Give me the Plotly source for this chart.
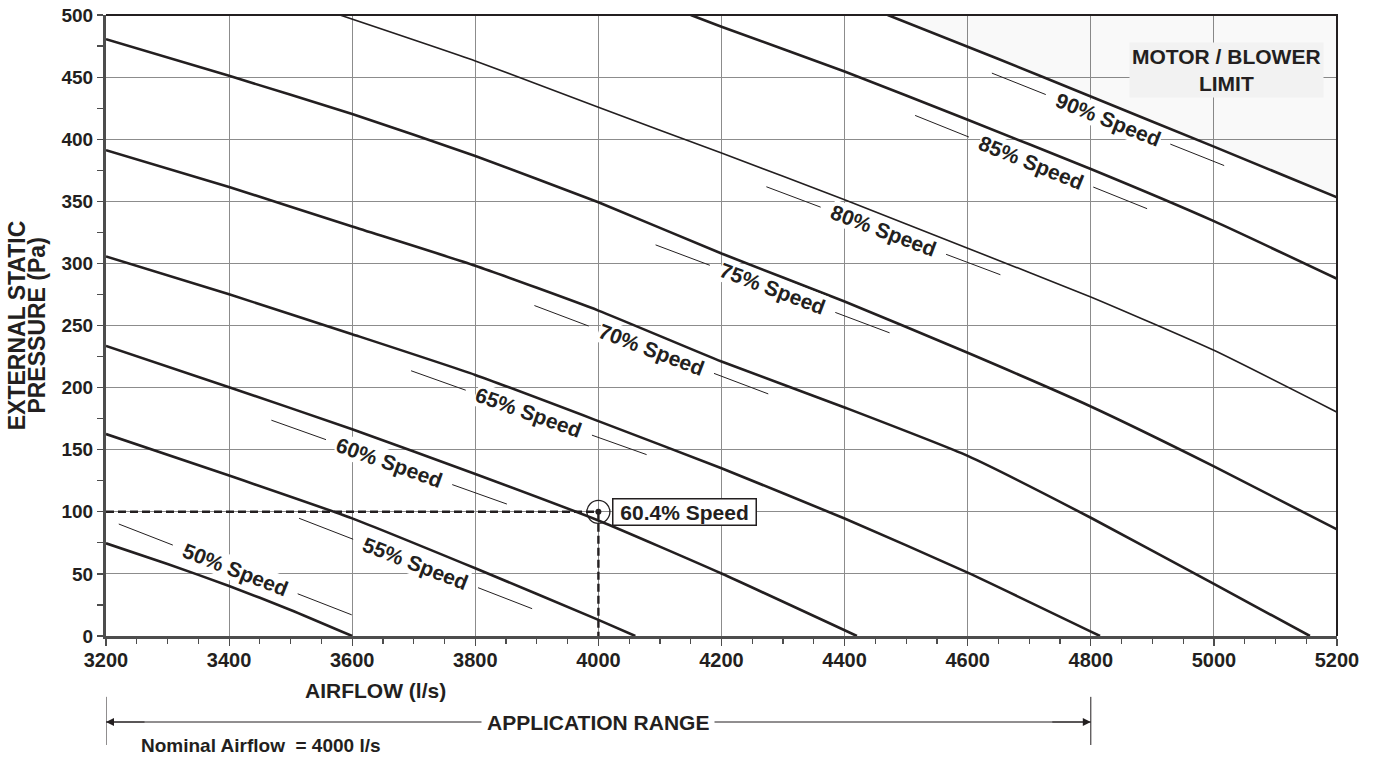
import math
import plotly.graph_objects as go

# ---------------- data ----------------
speeds = ["50%", "55%", "60%", "65%", "70%", "75%", "80%", "85%", "90%"]

airflow_50 = [3200, 3300, 3400, 3500, 3600]
pressure_50 = [74.6, 58, 40.3, 21, 0]

airflow_55 = [3200, 3400, 3600, 3800, 4000, 4060]
pressure_55 = [162.6, 129.2, 94.7, 54.5, 13, 0]

airflow_60 = [3200, 3400, 3600, 3800, 4000, 4200, 4420]
pressure_60 = [233.6, 200.3, 166.5, 130.5, 93, 50.3, 0]

airflow_65 = [3200, 3400, 3600, 3800, 4000, 4200, 4400, 4600, 4815]
pressure_65 = [305.6, 275.1, 243, 210.2, 173, 135, 94.6, 51, 0]

airflow_70 = [3200, 3400, 3600, 3800, 4000, 4200, 4400, 4600, 4800, 5000, 5156]
pressure_70 = [391.2, 361.5, 329.7, 298.1, 262, 221, 184, 145, 95.2, 42, 0]

airflow_75 = [3200, 3400, 3600, 3800, 4000, 4200, 4400, 4600, 4800, 5000, 5200]
pressure_75 = [480.5, 451, 420.3, 386.4, 349.2, 308, 269.3, 228, 184.8, 136.6, 85.8]

airflow_80 = [3580, 3800, 4000, 4200, 4400, 4600, 4800, 5000, 5200]
pressure_80 = [500, 463, 425.7, 388.8, 351.3, 312.2, 273, 230, 180.2]

airflow_85 = [4150, 4200, 4400, 4600, 4800, 5000, 5200]
pressure_85 = [500, 490.6, 454.5, 415.6, 376, 334, 287.6]

airflow_90 = [4470, 4648, 4800, 5000, 5200]
pressure_90 = [500, 465, 434.4, 394, 353.2]

# label anchor positions along each curve and text angles (degrees)
label_airflow = [3410, 3703, 3660, 3887, 4086, 4283, 4463, 4703, 4828]
label_pressure = [53.6, 58.4, 140, 179.8, 230.5, 279.5, 326.3, 381.6, 416]
label_angle = [21.3, 21.2, 19.6, 19.6, 20.7, 20.6, 20.6, 21.9, 21.7]

# operating point
op_airflow = 4000
op_pressure = 100
op_label = "60.4% Speed"

application_range = [3200, 4800]
nominal_airflow = 4000

x_range = [3200, 5200]
y_range = [0, 500]
x_ticks = [3200, 3400, 3600, 3800, 4000, 4200, 4400, 4600, 4800, 5000, 5200]
y_ticks = [0, 50, 100, 150, 200, 250, 300, 350, 400, 450, 500]

# ---------------- style ----------------
INK = "#231f20"
GRID = "#8c8c8c"
AXIS = "#4d4d4d"
FONT = "Liberation Sans, Arial, sans-serif"
FS = 21

curves = [
    (airflow_50, pressure_50, 2.6),
    (airflow_55, pressure_55, 2.6),
    (airflow_60, pressure_60, 2.6),
    (airflow_65, pressure_65, 2.6),
    (airflow_70, pressure_70, 2.6),
    (airflow_75, pressure_75, 2.6),
    (airflow_80, pressure_80, 1.6),
    (airflow_85, pressure_85, 2.6),
    (airflow_90, pressure_90, 2.6),
]

fig = go.Figure()

# motor / blower limit shaded region (above the 90% curve)
fig.add_trace(go.Scatter(
    x=airflow_90 + [x_range[1], airflow_90[0]],
    y=pressure_90 + [y_range[1], y_range[1]],
    fill="toself", fillcolor="rgba(0,0,0,0.022)",
    line=dict(width=0), mode="lines", hoverinfo="skip", showlegend=False))

for xs, ys, w in curves:
    fig.add_trace(go.Scatter(x=xs, y=ys, mode="lines",
                             line=dict(color=INK, width=w, shape="spline", smoothing=0.5),
                             showlegend=False, hoverinfo="skip"))

# dashed guide lines to the operating point
fig.add_trace(go.Scatter(x=[x_range[0], op_airflow], y=[op_pressure, op_pressure], mode="lines",
                         line=dict(color=INK, width=2.4, dash="8px,4px"), showlegend=False))
fig.add_trace(go.Scatter(x=[op_airflow, op_airflow], y=[op_pressure, y_range[0]], mode="lines",
                         line=dict(color=INK, width=2.4, dash="8px,4px"), showlegend=False))
fig.add_trace(go.Scatter(x=[op_airflow], y=[op_pressure], mode="markers",
                         marker=dict(symbol="circle-open", size=23, color=INK, line=dict(width=1.3)),
                         showlegend=False))
fig.add_trace(go.Scatter(x=[op_airflow], y=[op_pressure], mode="markers",
                         marker=dict(symbol="circle", size=6, color=INK), showlegend=False))

annotations = []
shapes = []

# speed labels with leader lines
INNER, OUTER = 67, 125
for name, lx, ly, ang in zip(speeds, label_airflow, label_pressure, label_angle):
    annotations.append(dict(
        x=lx, y=ly, xref="x", yref="y", text=f"{name} Speed", showarrow=False,
        textangle=ang, font=dict(family=FONT, size=FS, color=INK, weight="bold"),
        bgcolor="white", borderpad=0, xanchor="center", yanchor="middle"))
    c, s = math.cos(math.radians(ang)), math.sin(math.radians(ang))
    for d0, d1 in [(-OUTER, -INNER), (INNER, OUTER)]:
        shapes.append(dict(
            type="line", xref="x", yref="y",
            xsizemode="pixel", ysizemode="pixel", xanchor=lx, yanchor=ly,
            x0=d0 * c, x1=d1 * c, y0=-d0 * s, y1=-d1 * s,
            line=dict(color=INK, width=1)))

# operating point label
annotations.append(dict(
    x=op_airflow, y=op_pressure, xref="x", yref="y", text=f"&nbsp;{op_label}&nbsp;",
    showarrow=False, xanchor="left", yanchor="middle", xshift=14,
    font=dict(family=FONT, size=FS, color=INK, weight="bold"),
    bgcolor="white", bordercolor=INK, borderwidth=1.5, borderpad=1))

# motor / blower limit label
annotations.append(dict(
    x=0.91, y=0.912, xref="paper", yref="paper", text="MOTOR / BLOWER<br>LIMIT",
    showarrow=False, xanchor="center", yanchor="middle", align="center",
    font=dict(family=FONT, size=FS, color=INK, weight="bold"),
    bgcolor="#f2f2f2", borderpad=2))

# axis titles (y title as two rotated lines)
for xp, line in [(-0.0725, "EXTERNAL STATIC"), (-0.0568, "PRESSURE (Pa)")]:
    annotations.append(dict(
        x=xp, y=0.5, xref="paper", yref="paper", text=line, showarrow=False, textangle=-90,
        xanchor="center", yanchor="middle",
        font=dict(family=FONT, size=23, color=INK, weight="bold")))
annotations.append(dict(
    x=0.219, y=-0.087, xref="paper", yref="paper", text="AIRFLOW (l/s)",
    showarrow=False, xanchor="center", yanchor="middle",
    font=dict(family=FONT, size=FS, color=INK, weight="bold")))

# application range dimension line
ar_y = -0.1385
shapes.append(dict(type="line", xref="x", yref="paper",
                   x0=application_range[0], x1=application_range[1], y0=ar_y, y1=ar_y,
                   line=dict(color=INK, width=1)))
for xv in application_range:
    shapes.append(dict(type="line", xref="x", yref="paper",
                       x0=xv, x1=xv, y0=-0.098, y1=-0.1755, line=dict(color=INK, width=1)))
for xv, axp in [(application_range[0], 40), (application_range[1], -40)]:
    annotations.append(dict(x=xv, y=ar_y, xref="x", yref="paper", ax=axp, ay=0,
                            axref="pixel", ayref="pixel", text="", showarrow=True,
                            arrowhead=2, arrowsize=1.6, arrowwidth=1, arrowcolor=INK))
annotations.append(dict(
    x=(application_range[0] + application_range[1]) / 2, y=ar_y, xref="x", yref="paper",
    text="APPLICATION RANGE", showarrow=False, xanchor="center", yanchor="middle",
    bgcolor="white", borderpad=5,
    font=dict(family=FONT, size=FS, color=INK, weight="bold")))
annotations.append(dict(
    x=0.126, y=-0.177, xref="paper", yref="paper",
    text=f"Nominal Airflow&nbsp; = {nominal_airflow} l/s", showarrow=False,
    xanchor="center", yanchor="middle",
    font=dict(family=FONT, size=19, color=INK, weight="bold")))

# top and right frame lines
shapes.append(dict(type="path", xref="paper", yref="paper",
                   path="M 0 1 L 1 1 L 1 0", line=dict(color=INK, width=2)))

fig.update_layout(
    width=1374, height=757,
    margin=dict(l=106, r=37, t=15, b=121, autoexpand=False),
    plot_bgcolor="white", paper_bgcolor="white",
    showlegend=False, hovermode=False,
    annotations=annotations, shapes=shapes,
    font=dict(family=FONT, color=INK),
)
fig.update_xaxes(
    range=x_range, tickvals=x_ticks, showgrid=True, gridcolor=GRID, gridwidth=1,
    showline=True, linecolor=AXIS, linewidth=3, zeroline=False, automargin=False,
    ticks="outside", ticklen=7, tickcolor=AXIS, tickwidth=1.2, ticklabelstandoff=-3,
    ticklabeloverflow="allow",
    minor=dict(dtick=50, ticks="outside", ticklen=5, tickcolor=AXIS, showgrid=False),
    tickfont=dict(family=FONT, size=20, color=INK, weight="bold"))
fig.update_yaxes(
    range=y_range, tickvals=y_ticks, showgrid=True, gridcolor=GRID, gridwidth=1,
    showline=True, linecolor=AXIS, linewidth=3, zeroline=False, automargin=False,
    ticks="outside", ticklen=6, tickcolor=AXIS, tickwidth=1.2,
    ticklabeloverflow="allow",
    minor=dict(dtick=25, ticks="outside", ticklen=6, tickcolor=AXIS, showgrid=False),
    tickfont=dict(family=FONT, size=19, color=INK, weight="bold"))

# remove the default 8px page margin so the figure fills the 1374x757 window exactly
fig.write_html("out.html",
               config={"displayModeBar": False, "staticPlot": True},
               post_script="document.body.style.margin='0';document.body.style.overflow='hidden';")
